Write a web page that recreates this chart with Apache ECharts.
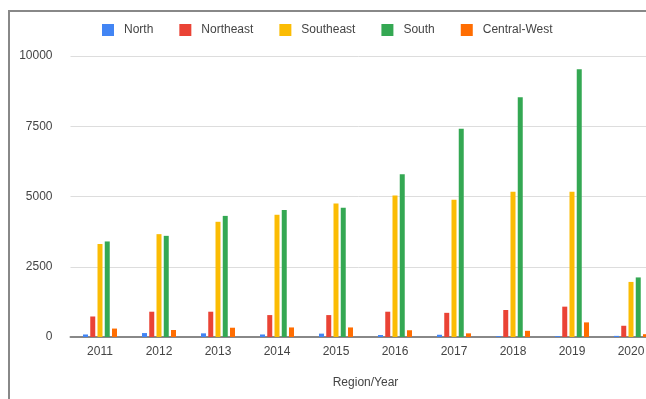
<!DOCTYPE html>
<html>
<head>
<meta charset="utf-8">
<script src="https://cdn.jsdelivr.net/npm/echarts@6/dist/echarts.min.js"></script>
<style>
html,body{margin:0;padding:0;background:#fff;}
#chart{width:646px;height:399px;}
</style>
</head>
<body>
<div id="chart"></div>
<script>
var years = ['2011','2012','2013','2014','2015','2016','2017','2018','2019','2020'];
var north = [90, 140, 130, 90, 120, 70, 80, 30, 30, 40];
var northeast = [730, 900, 900, 780, 780, 900, 860, 960, 1080, 400];
var southeast = [3310, 3660, 4100, 4350, 4750, 5040, 4880, 5170, 5170, 1960];
var south = [3400, 3600, 4310, 4520, 4600, 5790, 7410, 8530, 9530, 2120];
var centralWest = [300, 250, 330, 340, 340, 240, 130, 220, 520, 100];
var yTicks = [0, 2500, 5000, 7500, 10000];

var names = ['North','Northeast','Southeast','South','Central-West'];
var colors = ['#4285f4','#ea4335','#fbbc04','#34a853','#ff6d01'];
var values = [north, northeast, southeast, south, centralWest];

function bar(i){
	return {
		name: names[i],
		type: 'bar',
		data: values[i],
		barWidth: 5,
		barGap: '45%',
		itemStyle: {color: colors[i]}
	};
}

var el = echarts.init(document.getElementById('chart'));
var series = [];
for (var i = 0; i < names.length; i++) {
	series.push(bar(i));
}
el.setOption({
	animation: false,
	textStyle: {fontFamily: 'Liberation Sans, Arial, sans-serif'},
	color: colors,
	legend: {
		top: 19,
		left: 97,
		itemWidth: 12,
		itemHeight: 12,
		itemGap: 26,
		icon: 'rect',
		data: names,
		textStyle: {fontSize: 12, color: '#444', padding: [0, 0, 0, 5]}
	},
	grid: {left: 70.5, top: 56, width: 590, bottom: 62, containLabel: false, outerBoundsMode: 'none'},
	xAxis: {
		type: 'category',
		data: years,
		name: 'Region/Year',
		nameLocation: 'middle',
		nameGap: 40,
		nameTextStyle: {fontSize: 12, color: '#444'},
		axisTick: {show: false},
		axisLine: {lineStyle: {color: '#888', width: 2}},
		axisLabel: {fontSize: 12, color: '#444', margin: 9}
	},
	yAxis: {
		type: 'value',
		min: yTicks[0],
		max: yTicks[yTicks.length - 1],
		interval: 2500,
		axisLine: {show: false},
		axisTick: {show: false},
		axisLabel: {fontSize: 12, color: '#444', margin: 18, formatter: function (v) { return String(v); }},
		splitLine: {lineStyle: {color: '#ddd'}}
	},
	graphic: [
		{type: 'line', shape: {x1: 8, y1: 11, x2: 646, y2: 11}, style: {stroke: '#888', lineWidth: 2}},
		{type: 'line', shape: {x1: 9, y1: 10, x2: 9, y2: 399}, style: {stroke: '#888', lineWidth: 2}}
	],
	series: series
});
</script>
</body>
</html>
